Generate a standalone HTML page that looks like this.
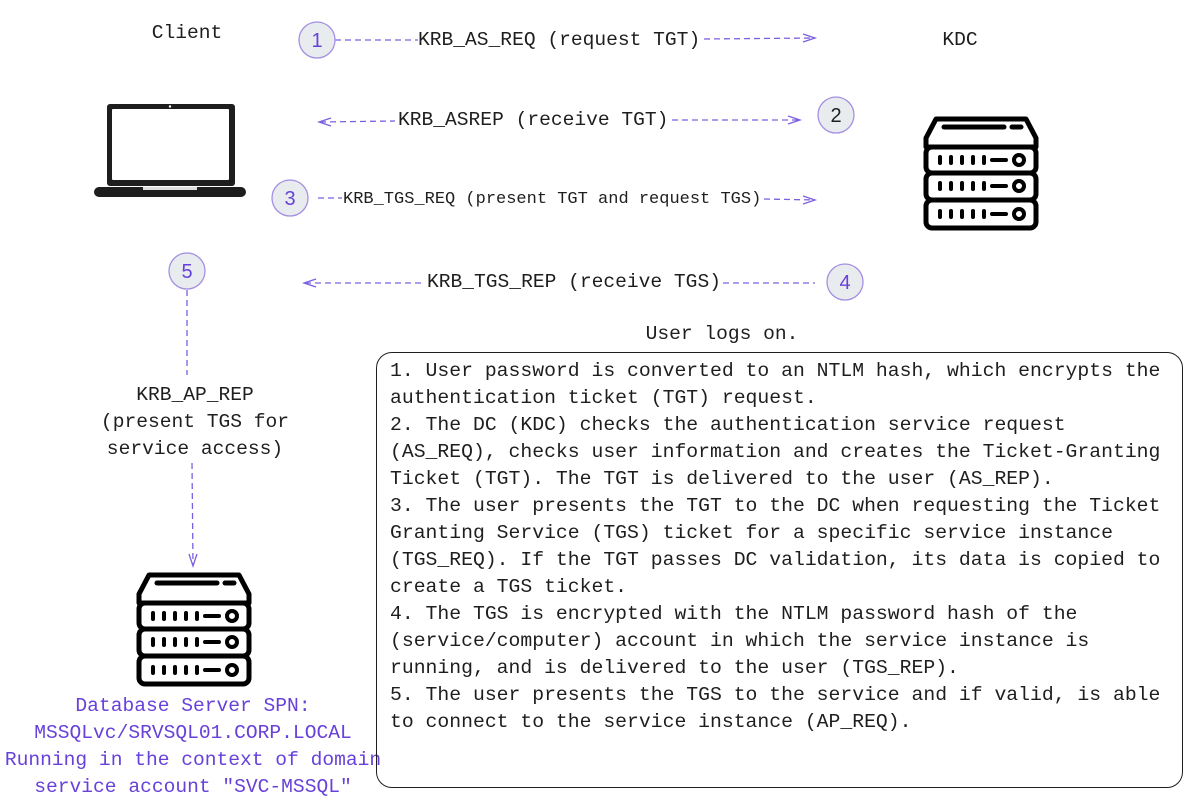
<!DOCTYPE html>
<html><head><meta charset="utf-8"><style>
html,body{margin:0;padding:0;background:#fff;}
body{width:1197px;height:806px;position:relative;overflow:hidden;font-family:"Liberation Mono",monospace;color:#1e1e1e;}
.t{position:absolute;white-space:pre;font-size:19.6px;line-height:27px;}
.c{text-align:center;transform:translateX(-50%);}
.box{position:absolute;left:376px;top:352px;width:807px;height:436px;border:1.6px solid #1e1e1e;border-radius:16px;box-sizing:border-box;}
.p{color:#6741d9;}
</style></head><body>
<svg width="1197" height="806" style="position:absolute;left:0;top:0">
<defs>
<g id="srv" fill="none" stroke="#000" stroke-width="5" stroke-linecap="round" stroke-linejoin="round">
<path d="M12 3 H102 L112 22 V31 H2 V22 Z"/>
<line x1="20" y1="11" x2="80" y2="11"/><line x1="88" y1="11" x2="97" y2="11"/>
<rect x="2" y="31" width="110" height="26" rx="6"/>
<rect x="2" y="57" width="110" height="27" rx="6"/>
<rect x="2" y="84" width="110" height="28" rx="6"/>
<g stroke-width="4">
<path d="M16 41v6M27 41v6M38 41v6M49 41v6M60 41v6M68 44h14"/>
<path d="M16 67v6M27 67v6M38 67v6M49 67v6M60 67v6M68 70h14"/>
<path d="M16 95v6M27 95v6M38 95v6M49 95v6M60 95v6M68 98h14"/>
</g>
<circle cx="95" cy="44" r="5" stroke-width="4"/><circle cx="95" cy="70" r="5" stroke-width="4"/><circle cx="95" cy="98" r="5" stroke-width="4"/>
</g>
</defs>
<use href="#srv" x="924" y="116"/>
<use href="#srv" x="137" y="572"/>
<rect x="107" y="104" width="128" height="82" rx="3" fill="#1e1e1e"/>
<rect x="112" y="109" width="117" height="71" rx="1" fill="#fff"/>
<circle cx="170" cy="106.5" r="1.2" fill="#fff"/>
<rect x="94" y="187" width="152" height="10" rx="5" fill="#1e1e1e"/>
<rect x="143" y="187" width="54" height="3" fill="#ddd"/>
<g stroke="#7c5fe0" stroke-width="1.3" fill="none" stroke-dasharray="6 4">
<line x1="335" y1="40" x2="418" y2="40"/><line x1="704" y1="39" x2="815" y2="38"/>
<line x1="320" y1="122" x2="395" y2="121"/><line x1="672" y1="120" x2="800" y2="120"/>
<line x1="318" y1="198" x2="342" y2="198"/><line x1="764" y1="199" x2="815" y2="200"/>
<line x1="305" y1="283" x2="425" y2="283"/><line x1="723" y1="283" x2="815" y2="283"/>
<line x1="187" y1="290" x2="187" y2="375"/><line x1="192" y1="463" x2="193" y2="565"/>
</g>
<g stroke="#7c5fe0" stroke-width="1.3" fill="none">
<path d="M803 34 L815 38 L803 42"/>
<path d="M788 116 L800 120 L788 124"/>
<path d="M331 118 L319 122 L331 126"/>
<path d="M803 196 L815 200 L803 204"/>
<path d="M316 279 L304 283 L316 287"/>
<path d="M189 554 L193 566 L197 554"/>
</g>
<g fill="#e9ecef" stroke="#a48fe3" stroke-width="1.3">
<circle cx="317" cy="40" r="18"/><circle cx="836" cy="115" r="18"/><circle cx="290" cy="198" r="18"/><circle cx="845" cy="282" r="18"/><circle cx="187" cy="271" r="18"/>
</g>
<g font-family="Liberation Sans,sans-serif" font-size="20" text-anchor="middle" fill="#6741d9">
<text x="317" y="47">1</text><text x="836" y="122" fill="#1e1e1e">2</text><text x="290" y="205">3</text><text x="845" y="289">4</text><text x="187" y="278">5</text>
</g>
</svg>
<div class="t c" style="left:187px;top:20px">Client</div>
<div class="t c" style="left:960px;top:27px">KDC</div>
<div class="t" style="left:418px;top:27px">KRB_AS_REQ (request TGT)</div>
<div class="t" style="left:398px;top:107px">KRB_ASREP (receive TGT)</div>
<div class="t" style="left:343px;top:186px;font-size:17px">KRB_TGS_REQ (present TGT and request TGS)</div>
<div class="t" style="left:427px;top:269px">KRB_TGS_REP (receive TGS)</div>
<div class="t c" style="left:722px;top:321px">User logs on.</div>
<div class="t c" style="left:195px;top:382px;text-align:center">KRB_AP_REP
(present TGS for
service access)</div>
<div class="t c p" style="left:193px;top:693px;text-align:center">Database Server SPN:
MSSQLvc/SRVSQL01.CORP.LOCAL
Running in the context of domain
service account "SVC-MSSQL"</div>
<div class="box"></div>
<div class="t" style="left:390px;top:358px;font-size:19.75px">1. User password is converted to an NTLM hash, which encrypts the
authentication ticket (TGT) request.
2. The DC (KDC) checks the authentication service request
(AS_REQ), checks user information and creates the Ticket-Granting
Ticket (TGT). The TGT is delivered to the user (AS_REP).
3. The user presents the TGT to the DC when requesting the Ticket
Granting Service (TGS) ticket for a specific service instance
(TGS_REQ). If the TGT passes DC validation, its data is copied to
create a TGS ticket.
4. The TGS is encrypted with the NTLM password hash of the
(service/computer) account in which the service instance is
running, and is delivered to the user (TGS_REP).
5. The user presents the TGS to the service and if valid, is able
to connect to the service instance (AP_REQ).</div>
</body></html>
